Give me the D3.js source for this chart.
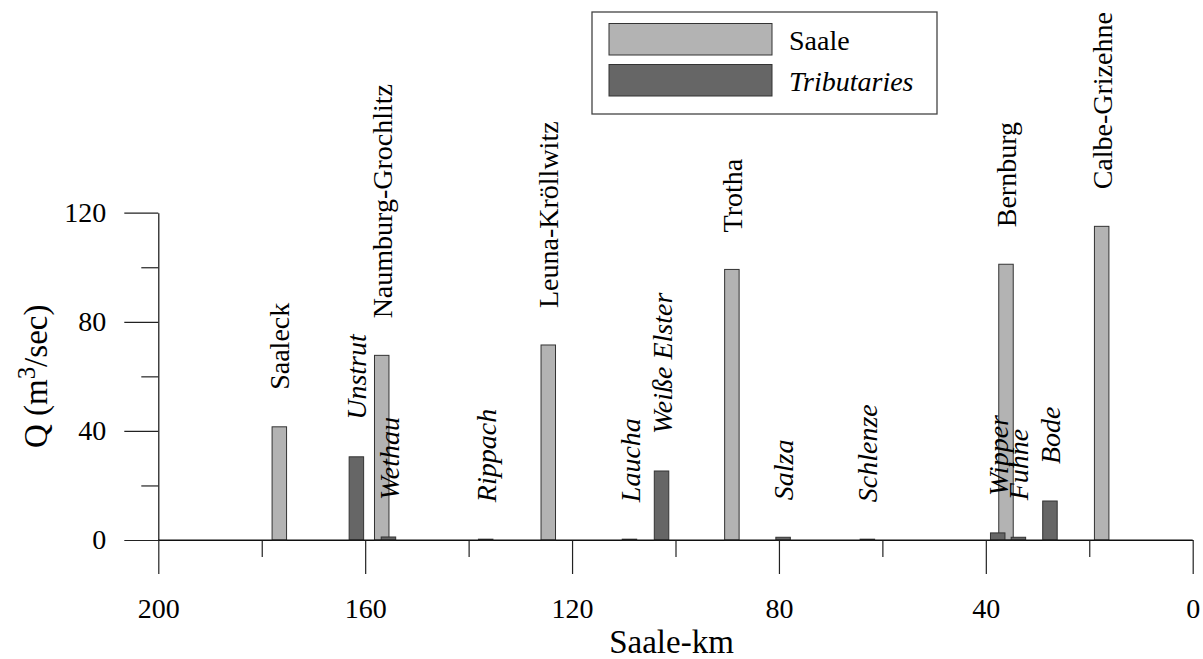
<!DOCTYPE html>
<html>
<head>
<meta charset="utf-8">
<script src="https://cdn.jsdelivr.net/npm/d3@7"></script>
<style>
  html, body { margin: 0; padding: 0; background: #fff; }
  svg { display: block; }
  svg text { font-family: "Liberation Serif", "Times New Roman", Times, serif !important; }
</style>
</head>
<body>
<svg id="chart" width="1203" height="659"></svg>
<script>
// Main-stem gauging stations: name, Saale-km, discharge Q (m³/s)
const saaleNames = ["Saaleck", "Naumburg-Grochlitz", "Leuna-Kröllwitz", "Trotha", "Bernburg", "Calbe-Grizehne"];
const saaleKm    = [176.6, 156.8, 124.6, 89.1, 36.1, 17.6];
const saaleQ     = [41.5, 67.7, 71.5, 99.2, 101.1, 115.0];

// Tributary inflows: name, Saale-km of the mouth, discharge Q (m³/s)
const tribNames = ["Unstrut", "Wethau", "Rippach", "Laucha", "Weiße Elster", "Salza", "Schlenze", "Wipper", "Fuhne", "Bode"];
const tribKm    = [161.7, 155.5, 136.7, 108.9, 102.7, 79.2, 62.9, 37.7, 33.7, 27.6];
const tribQ     = [30.5, 1.1, 0.3, 0.3, 25.3, 1.0, 0.3, 2.6, 1.0, 14.3];

// Axis ticks
const xMajorTicks = [200, 160, 120, 80, 40, 0];
const xMinorTicks = [180, 140, 100, 60, 20];
const yMajorTicks = [0, 40, 80, 120];
const yMinorTicks = [20, 60, 100];

const legendLabels = ["Saale", "Tributaries"];

const saale = saaleNames.map((n, i) => ({ name: n, km: saaleKm[i], q: saaleQ[i] }));
const tribs = tribNames.map((n, i) => ({ name: n, km: tribKm[i], q: tribQ[i] }));

const svg = d3.select("#chart");
const SERIF = "Liberation Serif";
const FONT = 28;
const LIGHT = "#b3b3b3", DARK = "#666666", EDGE = "#333333";

const x = d3.scaleLinear().domain([200, 0]).range([158.3, 1192.7]);
const y = d3.scaleLinear().domain([0, 120]).range([540, 212.7]);
const halfBar = 1.4; // half bar width in km

// ---- axes ----
function styleAxis(g) {
  g.attr("font-family", SERIF);
  g.selectAll("path.domain").attr("stroke", "#111").attr("stroke-width", 1.2);
  g.selectAll(".tick line").attr("stroke", "#222").attr("stroke-width", 1.2);
  g.selectAll(".tick text").attr("font-family", SERIF)
    .attr("font-size", FONT).attr("fill", "#000");
}

const xAxisG = svg.append("g").attr("transform", `translate(0,${y(0)})`)
  .call(d3.axisBottom(x).tickValues(xMajorTicks).tickSize(34).tickSizeOuter(0)
    .tickPadding(24).tickFormat(d3.format("d")));
styleAxis(xAxisG);
const xMinorG = svg.append("g").attr("transform", `translate(0,${y(0)})`)
  .call(d3.axisBottom(x).tickValues(xMinorTicks).tickSize(17).tickFormat(""));
xMinorG.select("path.domain").remove();
styleAxis(xMinorG);

const yAxisG = svg.append("g").attr("transform", `translate(${x(200)},0)`)
  .call(d3.axisLeft(y).tickValues(yMajorTicks).tickSize(34).tickSizeOuter(0)
    .tickPadding(18).tickFormat(d3.format("d")));
styleAxis(yAxisG);
const yMinorG = svg.append("g").attr("transform", `translate(${x(200)},0)`)
  .call(d3.axisLeft(y).tickValues(yMinorTicks).tickSize(17).tickFormat(""));
yMinorG.select("path.domain").remove();
styleAxis(yMinorG);

// axis titles
svg.append("text")
  .attr("x", (x(200) + x(0)) / 2 - 4).attr("y", 653)
  .attr("text-anchor", "middle").attr("font-size", 33).attr("font-family", SERIF)
  .text("Saale-km");

const yTitle = svg.append("text")
  .attr("transform", `translate(47,${(y(0) + y(120)) / 2}) rotate(-90)`)
  .attr("text-anchor", "middle").attr("font-size", 33).attr("font-family", SERIF);
yTitle.append("tspan").text("Q (m");
yTitle.append("tspan").attr("font-size", 25).attr("dy", -12).text("3");
yTitle.append("tspan").attr("dy", 12).text("/sec)");

// ---- bars ----
function drawBars(data, fill, cls) {
  svg.append("g").attr("class", cls)
    .selectAll("rect").data(data).join("rect")
    .attr("x", d => x(d.km + halfBar))
    .attr("width", d => x(d.km - halfBar) - x(d.km + halfBar))
    .attr("y", d => y(d.q))
    .attr("height", d => y(0) - y(d.q))
    .attr("fill", fill).attr("stroke", EDGE).attr("stroke-width", 1);
}
drawBars(saale, LIGHT, "saale-bars");
drawBars(tribs, DARK, "trib-bars");

// ---- station / tributary labels ----
function drawLabels(data, italic) {
  svg.append("g")
    .selectAll("text").data(data).join("text")
    .attr("transform", d => `translate(${x(d.km)},${y(d.q) - 37}) rotate(-90)`)
    .attr("dy", "0.36em")
    .attr("text-anchor", "start")
    .attr("font-family", SERIF)
    .attr("font-size", FONT)
    .attr("font-style", italic ? "italic" : "normal")
    .text(d => d.name);
}
drawLabels(saale, false);
drawLabels(tribs, true);

// x axis baseline on top of the bars
svg.append("line")
  .attr("x1", x(200)).attr("x2", x(0)).attr("y1", y(0)).attr("y2", y(0))
  .attr("stroke", "#111").attr("stroke-width", 1.2);

// ---- legend ----
const legend = svg.append("g");
legend.append("rect")
  .attr("x", 592).attr("y", 12).attr("width", 345).attr("height", 102)
  .attr("fill", "#fff").attr("stroke", "#444").attr("stroke-width", 1.3);
const legendFills = [LIGHT, DARK];
legendLabels.forEach((lab, i) => {
  legend.append("rect")
    .attr("x", 609).attr("y", 23.5 + i * 41).attr("width", 163).attr("height", 31.5)
    .attr("fill", legendFills[i]).attr("stroke", EDGE).attr("stroke-width", 1);
  legend.append("text")
    .attr("x", 789).attr("y", 50 + i * 41)
    .attr("font-family", SERIF)
    .attr("font-size", FONT)
    .attr("font-style", i === 1 ? "italic" : "normal")
    .text(lab);
});
</script>
</body>
</html>
